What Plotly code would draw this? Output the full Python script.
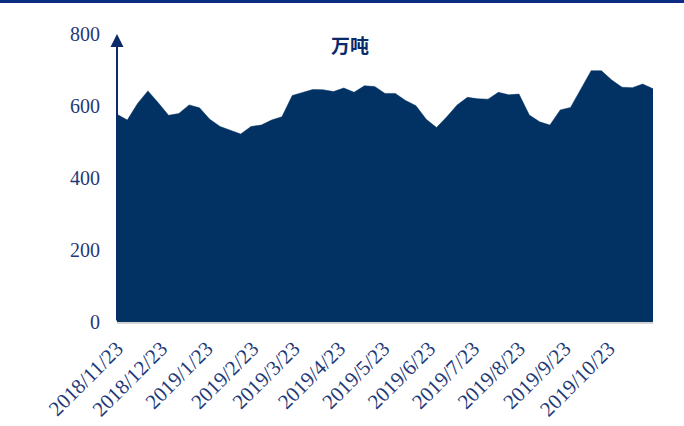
import pandas as pd
import plotly.graph_objects as go

# weekly stock, 万吨
start_date = "2018-11-23"
stock = [577, 561, 607, 642, 609, 574, 579, 603, 595, 563,
         543, 533, 522, 543, 547, 561, 570, 629, 638, 646,
         645, 640, 650, 638, 656, 654, 635, 635, 615, 601,
         563, 540, 570, 603, 624, 620, 619, 638, 631, 633,
         575, 556, 547, 589, 596, 647, 698, 698, 672, 652,
         651, 661, 648]
tick_dates = ["2018-11-23", "2018-12-23", "2019-01-23", "2019-02-23",
              "2019-03-23", "2019-04-23", "2019-05-23", "2019-06-23",
              "2019-07-23", "2019-08-23", "2019-09-23", "2019-10-23"]
tick_labels = ["2018/11/23", "2018/12/23", "2019/1/23", "2019/2/23",
               "2019/3/23", "2019/4/23", "2019/5/23", "2019/6/23",
               "2019/7/23", "2019/8/23", "2019/9/23", "2019/10/23"]
y_ticks = [0, 200, 400, 600, 800]

dates = pd.date_range(start_date, periods=len(stock), freq="7D")

fill_col = "#023263"
text_col = "#1F3A78"
serif = "Liberation Serif"

fig = go.Figure()
fig.add_trace(go.Scatter(x=dates, y=stock, mode="lines", fill="tozeroy",
                         fillcolor=fill_col, line=dict(color=fill_col, width=0.5),
                         hoverinfo="skip"))

# title inside the plot
fig.add_annotation(text="<b>万吨</b>", x=0.435, y=1.018, xref="paper", yref="paper",
                   showarrow=False, font=dict(family="Noto Sans CJK SC", size=19, color="#0B2A6B"))

# y axis drawn as an arrow
fig.add_annotation(x=dates[0], y=800, ax=dates[0], ay=0, xref="x", yref="y",
                   axref="x", ayref="y", text="", showarrow=True, arrowhead=2,
                   arrowsize=1.3, arrowwidth=2, arrowcolor="#0B2A6B")

# navy rule across the top of the image
fig.add_shape(type="line", xref="paper", yref="paper", x0=-0.3, x1=1.2,
              y0=1.113, y1=1.113, line=dict(color="#0C2C84", width=3))

fig.update_layout(
    width=684, height=426,
    margin=dict(l=117, r=31, t=34, b=104, autoexpand=False),
    plot_bgcolor="white", paper_bgcolor="white",
    showlegend=False,
    font=dict(family=serif, color=text_col, size=18),
)
fig.update_xaxes(range=[dates[0], dates[-1]], tickvals=pd.to_datetime(tick_dates),
                 ticktext=tick_labels, tickangle=-45, showgrid=False,
                 showline=True, linecolor="#D3D3D3", linewidth=2, automargin=False,
                 ticks="", ticklabelstandoff=4, tickfont=dict(size=21))
fig.update_yaxes(range=[0, 800], tickvals=y_ticks, showgrid=False, zeroline=False,
                 showline=False, ticks="", ticklabelstandoff=16, automargin=False,
                 tickfont=dict(size=20))

# drop the default page margin so the figure sits at the window's corner
fig.write_html("out.html", config={"displayModeBar": False},
               post_script="document.body.style.margin='0';")
